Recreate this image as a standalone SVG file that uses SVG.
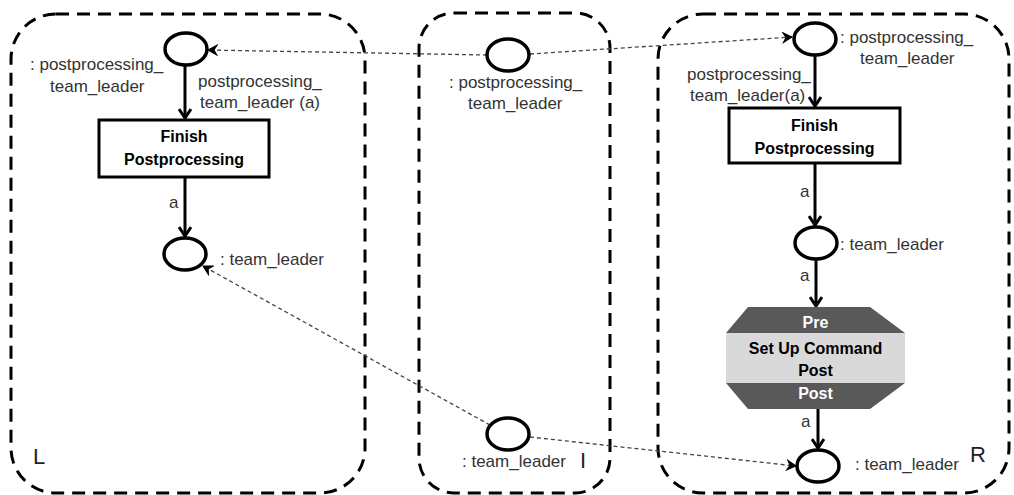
<svg xmlns="http://www.w3.org/2000/svg" width="1014" height="495" viewBox="0 0 1014 495">
<style>
.cont{fill:none;stroke:#000;stroke-width:3;stroke-dasharray:13 8}
.place{fill:#fff;stroke:#000;stroke-width:3.5}
.box{fill:#fff;stroke:#000;stroke-width:3}
.arc{fill:none;stroke:#000;stroke-width:3}
.map{fill:none;stroke:#444;stroke-width:1.3;stroke-dasharray:4 3}
.t{font-family:"Liberation Sans",Arial,sans-serif;font-size:17px;fill:#333}
.b{font-family:"Liberation Sans",Arial,sans-serif;font-size:16px;font-weight:bold;fill:#000;text-anchor:middle}
.w{fill:#fff}
.big{font-family:"Liberation Sans",Arial,sans-serif;font-size:22px;fill:#222}
</style>
<defs>
<marker id="ah" markerUnits="userSpaceOnUse" markerWidth="14" markerHeight="14" refX="11" refY="7" orient="auto" viewBox="0 0 14 14">
<path d="M2,1 L11,7 L2,13" fill="none" stroke="#000" stroke-width="3"/>
</marker>
<marker id="dh" markerUnits="userSpaceOnUse" markerWidth="12" markerHeight="12" refX="10" refY="6" orient="auto" viewBox="0 0 12 12">
<path d="M1,1 L10,6 L1,11 L4,6 Z" fill="#000" stroke="#000" stroke-width="1"/>
</marker>
</defs>

<g id="graph-L">
<rect class="cont" x="11" y="14" width="354" height="479" rx="45"/>
<text class="big" x="33" y="464">L</text>
</g>
<g id="graph-I">
<rect class="cont" x="419" y="13" width="191" height="480" rx="35"/>
<text class="big" x="580" y="468">I</text>
</g>
<g id="graph-R">
<rect class="cont" x="658" y="14" width="351" height="479" rx="45"/>
<text class="big" x="970" y="462">R</text>
</g>

<g id="connectors">
<line class="arc" x1="185" y1="65" x2="185" y2="118" marker-end="url(#ah)"/>
<line class="arc" x1="185" y1="177" x2="185" y2="236" marker-end="url(#ah)"/>
<line class="arc" x1="815" y1="55" x2="815" y2="106" marker-end="url(#ah)"/>
<line class="arc" x1="815" y1="163" x2="815" y2="225" marker-end="url(#ah)"/>
<line class="arc" x1="816" y1="259" x2="816" y2="306" marker-end="url(#ah)"/>
<line class="arc" x1="818" y1="409" x2="818" y2="448" marker-end="url(#ah)"/>
<line class="map" x1="487" y1="55" x2="208" y2="50" marker-end="url(#dh)"/>
<line class="map" x1="530" y1="54" x2="792" y2="37" marker-end="url(#dh)"/>
<line class="map" x1="490" y1="425" x2="203" y2="266" marker-end="url(#dh)"/>
<line class="map" x1="530" y1="437" x2="796" y2="466" marker-end="url(#dh)"/>
<text class="t" x="198" y="87">postprocessing_</text>
<text class="t" x="200" y="108">team_leader (a)</text>
<text class="t" x="169" y="208">a</text>
<text class="t" x="687" y="80">postprocessing_</text>
<text class="t" x="690" y="101">team_leader(a)</text>
<text class="t" x="800" y="197">a</text>
<text class="t" x="800" y="281">a</text>
<text class="t" x="801" y="427">a</text>
</g>

<g id="L-p1">
<ellipse class="place" cx="186" cy="49" rx="21" ry="16"/>
<text class="t" x="30" y="70">: postprocessing_</text>
<text class="t" x="50" y="92">team_leader</text>
</g>
<g id="L-finish">
<rect class="box" x="99" y="120" width="170" height="57"/>
<text class="b" x="184" y="142">Finish</text>
<text class="b" x="184" y="165">Postprocessing</text>
</g>
<g id="L-p2">
<ellipse class="place" cx="185" cy="254" rx="21" ry="16"/>
<text class="t" x="220" y="265">: team_leader</text>
</g>

<g id="I-p1">
<ellipse class="place" cx="508" cy="55" rx="21" ry="16"/>
<text class="t" x="449" y="88">: postprocessing_</text>
<text class="t" x="468" y="109">team_leader</text>
</g>
<g id="I-p2">
<ellipse class="place" cx="508" cy="434" rx="21" ry="16"/>
<text class="t" x="462" y="467">: team_leader</text>
</g>

<g id="R-p1">
<ellipse class="place" cx="815" cy="39" rx="21" ry="16"/>
<text class="t" x="840" y="43">: postprocessing_</text>
<text class="t" x="860" y="64">team_leader</text>
</g>
<g id="R-finish">
<rect class="box" x="729" y="108" width="171" height="55"/>
<text class="b" x="814.5" y="131">Finish</text>
<text class="b" x="814.5" y="154">Postprocessing</text>
</g>
<g id="R-p2">
<ellipse class="place" cx="816" cy="243" rx="21" ry="16"/>
<text class="t" x="840" y="250">: team_leader</text>
</g>
<g id="R-setup">
<polygon points="748,307 870,307 905,333 726,333" fill="#595959"/>
<rect x="726" y="333" width="179" height="50" fill="#d9d9d9"/>
<polygon points="726,383 905,383 870,409 748,409" fill="#595959"/>
<text class="b w" x="815.5" y="328">Pre</text>
<text class="b" x="815.5" y="354">Set Up Command</text>
<text class="b" x="815.5" y="376">Post</text>
<text class="b w" x="815.5" y="399">Post</text>
</g>
<g id="R-p3">
<ellipse class="place" cx="818" cy="466" rx="21" ry="16"/>
<text class="t" x="855" y="470">: team_leader</text>
</g>
</svg>
